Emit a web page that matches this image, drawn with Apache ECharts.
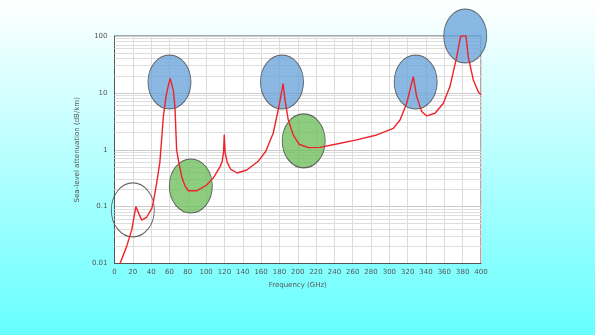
<!DOCTYPE html>
<html><head><meta charset="utf-8">
<script src="https://cdn.jsdelivr.net/npm/echarts@6/dist/echarts.min.js"></script>
<style>html,body{margin:0;padding:0;}#c{width:595px;height:335px;}</style>
</head><body><div id="c"></div>
<script>
// Data
const freq = [6, 13.3, 18.8, 23.3, 29.6, 35.1, 40.7, 42.4, 46, 49.5, 53.3, 56.2, 58.5, 60.8, 62.5, 64.2, 66, 67.8, 69.7, 73.3, 77, 80.6, 89.7, 100.6, 107.9, 115.1, 117.5, 119, 119.8, 120.7, 123, 127, 133.9, 144.3, 156.6, 165, 173.2, 179.4, 184, 186.1, 189.7, 195.2, 201.4, 211.5, 224.3, 242.5, 264.3, 286.1, 304.3, 311.6, 318.9, 326.1, 329.8, 335.3, 340.7, 349.8, 358.9, 366.1, 373.5, 377.8, 383.6, 386.1, 391.6, 397, 400];
const atten = [0.01, 0.02, 0.039, 0.1, 0.058, 0.065, 0.093, 0.12, 0.26, 0.6, 3.8, 8.6, 13, 18, 14, 11.2, 5.6, 1.0, 0.66, 0.34, 0.23, 0.19, 0.19, 0.24, 0.32, 0.5, 0.62, 0.9, 1.85, 0.9, 0.6, 0.45, 0.39, 0.44, 0.62, 0.93, 1.95, 5.7, 14.5, 7.5, 3.3, 1.8, 1.25, 1.09, 1.1, 1.26, 1.49, 1.82, 2.38, 3.34, 6.56, 19.3, 8.6, 4.7, 3.93, 4.38, 6.56, 12.9, 43, 100, 100, 43, 16.9, 10.5, 9.2];
const ellipseX = [20, 60, 83.3, 182.8, 206.5, 328.7, 382.8];
const ellipseY = [0.0875, 15.5, 0.23, 15.5, 1.43, 15.5, 100];
const ellipseKind = ['empty', 'blue', 'green', 'blue', 'green', 'blue', 'blue'];
const yTickLabels = ['0.01', '0.1', '1', '10', '100'];
const xName = 'Frequency (GHz)';
const yName = 'Sea-level attenuation (dB/km)';

const fills = {empty: 'rgba(255,255,255,0)', blue: 'rgba(98,160,218,0.93)', green: 'rgba(104,186,84,0.93)'};
const minorLines = [];
[0.01, 0.1, 1, 10].forEach(d => { for (let k = 2; k <= 9; k++) minorLines.push({yAxis: +(d * k).toPrecision(3)}); });

const chart = echarts.init(document.getElementById('c'), null, {renderer: 'canvas'});
const txt = '#555';
chart.setOption({
  animation: false,
  backgroundColor: {type: 'linear', x: 0, y: 0, x2: 0, y2: 1, colorStops: [{offset: 0, color: '#ffffff'}, {offset: 1, color: '#66ffff'}]},
  grid: {left: 114.5, right: 114, top: 36, bottom: 71.5, show: true, backgroundColor: '#ffffff', borderColor: '#555', borderWidth: 1},
  xAxis: {
    type: 'value', min: 0, max: 400, interval: 20,
    name: xName, nameLocation: 'middle', nameGap: 18,
    nameTextStyle: {color: txt, fontSize: 7, fontFamily: 'DejaVu Sans'},
    axisLine: {lineStyle: {color: '#555'}}, axisTick: {show: false},
    axisLabel: {color: txt, fontSize: 7, fontFamily: 'DejaVu Sans', margin: 5},
    splitLine: {show: true, lineStyle: {color: '#dcdcdc', width: 1}}
  },
  yAxis: {
    type: 'log', logBase: 10, min: 0.01, max: 100,
    name: yName, nameLocation: 'middle', nameGap: 26,
    nameTextStyle: {color: txt, fontSize: 7, fontFamily: 'DejaVu Sans'},
    axisLine: {show: true, lineStyle: {color: '#555'}}, axisTick: {show: false},
    axisLabel: {color: txt, fontSize: 7, fontFamily: 'DejaVu Sans', margin: 7,
      formatter: v => { const i = Math.round(Math.log10(v)) + 2; return yTickLabels[i] !== undefined ? yTickLabels[i] : ''; }},
    splitLine: {show: true, lineStyle: {color: '#cccccc', width: 1}}
  },
  series: [
    {
      type: 'line', data: [], silent: true, z: 1,
      markLine: {silent: true, z: 1, symbol: 'none', label: {show: false}, lineStyle: {color: '#dedede', width: 1, type: 'solid'}, data: minorLines}
    },
    {
      type: 'scatter', z: 6, clip: false, silent: true,
      data: ellipseX.map((x, i) => ({value: [x, ellipseY[i]], itemStyle: {color: fills[ellipseKind[i]]}})),
      symbol: 'circle', symbolSize: [43, 54],
      itemStyle: {borderColor: '#444', borderWidth: 1}
    },
    {
      type: 'line', z: 7, smooth: false, showSymbol: false, symbol: 'none',
      data: freq.map((f, i) => [f, atten[i]]),
      lineStyle: {color: '#ee2229', width: 1.4}
    }
  ]
});
</script></body></html>
